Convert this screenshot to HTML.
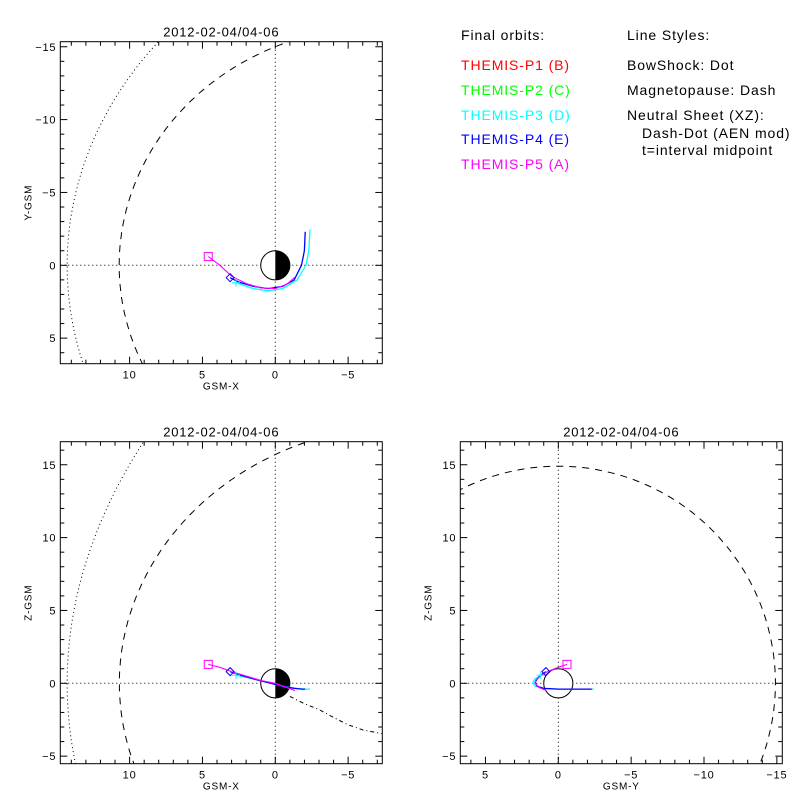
<!DOCTYPE html>
<html><head><meta charset="utf-8"><style>
html,body{margin:0;padding:0;background:#fff;width:800px;height:800px;overflow:hidden;}
svg{display:block;font-family:"Liberation Sans",sans-serif;overflow:hidden;}
</style></head><body>
<svg id="chart" width="800" height="800" viewBox="0 0 800 800">
<g font-size="14" letter-spacing="0.9">
<text x="461" y="40" fill="#000">Final orbits:</text>
<text x="461" y="70" fill="#ff0000">THEMIS-P1 (B)</text>
<text x="461" y="95" fill="#00ff00">THEMIS-P2 (C)</text>
<text x="461" y="120" fill="#00ffff">THEMIS-P3 (D)</text>
<text x="461" y="144" fill="#0000ff">THEMIS-P4 (E)</text>
<text x="461" y="169" fill="#ff00ff">THEMIS-P5 (A)</text>
</g>
<g font-size="14" letter-spacing="0.9" fill="#000">
<text x="627" y="40">Line Styles:</text>
<text x="627" y="70">BowShock: Dot</text>
<text x="627" y="95">Magnetopause: Dash</text>
<text x="627" y="120">Neutral Sheet (XZ):</text>
<text x="642" y="138">Dash-Dot (AEN mod)</text>
<text x="642" y="155">t=interval midpoint</text>
</g>
</svg>
<script>
// ---- data ----
const titleText = "2012-02-04/04-06";
const xyXTicks = [10, 5, 0, -5];
const xyYTicks = [-15, -10, -5, 0, 5];
const zTicks = [15, 10, 5, 0, -5];
const yzYTicks = [5, 0, -5, -10, -15];
// orbit points (GSM X, Y, Z) in Re
const p5X = [4.6, 3.8, 3.0, 2.0, 1.0, 0.0, -0.8, -1.35];
const p5Y = [-0.6, 0.0, 0.75, 1.25, 1.55, 1.6, 1.3, 0.8];
const p5Z = [1.3, 1.1, 0.8, 0.5, 0.2, 0.0, -0.3, -0.5];
const p4X = [3.1, 2.5, 1.5, 0.5, -0.5, -1.3, -1.8, -2.0, -2.05];
const p4Y = [0.85, 1.15, 1.45, 1.6, 1.45, 1.0, 0.0, -1.0, -2.3];
const p4Z = [0.8, 0.6, 0.3, 0.05, -0.2, -0.35, -0.4, -0.4, -0.4];
const p3X = [2.7, 1.5, 0.5, -0.5, -1.5, -2.1, -2.3, -2.38];
const p3Y = [1.2, 1.6, 1.75, 1.6, 1.0, 0.0, -1.0, -2.45];
const p3Z = [0.55, 0.3, 0.05, -0.2, -0.35, -0.4, -0.4, -0.4];
// neutral sheet (XZ)
const nsX = [-1.0, -2.0, -3.0, -4.0, -5.0, -6.0, -7.3];
const nsZ = [-0.9, -1.4, -1.8, -2.35, -2.85, -3.2, -3.45];
// model boundary conic params: [semi-latus L, eccentricity e]
const mpXY = [15.0, 0.40];
const mpXZ = [15.7, 0.467];
const bsXY = [21.2, 0.484];
const bsXZ = [26.8, 0.876];
const mpYZradius = [14.9];

const NS = "http://www.w3.org/2000/svg";
const svg = document.getElementById('chart');
function mk(tag, attrs, parent) {
  const e = document.createElementNS(NS, tag);
  for (const k in attrs) e.setAttribute(k, attrs[k]);
  (parent || svg).appendChild(e);
  return e;
}
const S = 14.57;
function makePanel(name, left, top, ox, oy) {
  const g = mk('g', {});
  
  
  const W = 322, H = 322;
  const sx = v => ox - v * S;
  const defs = mk('clipPath', {id: name + '-clip'}, g);
  mk('rect', {x: left, y: top, width: W, height: H}, defs);
  const plot = mk('g', {'clip-path': 'url(#' + name + '-clip)'}, g);
  
  
  const t = mk('text', {x: left + W / 2, y: top - 5, 'text-anchor': 'middle', 'font-size': 13, 'letter-spacing': '0.8'}, g);
  t.textContent = titleText;
  
  
  const hMin = (ox - (left + W)) / S, hMax = (ox - left) / S;
  for (let v = Math.ceil(hMin); v <= hMax; v++) {
    const x = sx(v), len = v % 5 === 0 ? 7 : 4;
    mk('line', {x1: x, y1: top + H, x2: x, y2: top + H - len, stroke: '#000'}, g);
    mk('line', {x1: x, y1: top, x2: x, y2: top + len, stroke: '#000'}, g);
  }
  return {g, plot, sx, left, top, W, H, ox, oy};
}
function vTicksDraw(p, vmin, vmax, toPx) {
  for (let v = Math.ceil(vmin); v <= vmax; v++) {
    const y = toPx(v), len = v % 5 === 0 ? 7 : 4;
    mk('line', {x1: p.left, y1: y, x2: p.left + len, y2: y, stroke: '#000'}, p.g);
    mk('line', {x1: p.left + p.W, y1: y, x2: p.left + p.W - len, y2: y, stroke: '#000'}, p.g);
  }
}
function labels(p, name, hTicks, hToPx, vTicks, vToPx, hTitle, vTitle) {
  hTicks.forEach(v => {
    const t = mk('text', {x: hToPx(v), y: p.top + p.H + 15, 'text-anchor': 'middle', 'font-size': 11, 'letter-spacing': '0.8'}, p.g);
    t.textContent = v < 0 ? '\u2212' + (-v) : String(v);
    
    
  });
  vTicks.forEach(v => {
    const t = mk('text', {x: p.left - 4, y: vToPx(v) + 4, 'text-anchor': 'end', 'font-size': 11, 'letter-spacing': '0.8'}, p.g);
    t.textContent = v < 0 ? '\u2212' + (-v) : String(v);
    
    
  });
  const ht = mk('text', {x: p.left + p.W / 2, y: p.top + p.H + 26, 'text-anchor': 'middle', 'font-size': 10, 'letter-spacing': '0.8'}, p.g);
  ht.textContent = hTitle;
  
  
  const cy = p.top + p.H / 2;
  const vt = mk('text', {x: p.left - 29, y: cy, 'text-anchor': 'middle', 'font-size': 10, 'letter-spacing': '0.8', transform: 'rotate(-90 ' + (p.left - 29) + ' ' + cy + ')'}, p.g);
  vt.textContent = vTitle;
  
  
  mk('rect', {x: p.left, y: p.top, width: p.W, height: p.H, fill: 'none', stroke: '#000'}, p.g);
}
function poly(parent, xs, ys, hPx, vPx, style, name, p) {
  let pts = xs.map((x, i) => [hPx(x), vPx(ys[i])]);
  if (p) pts = pts.filter(q => q[0] >= p.left - 6 && q[0] <= p.left + p.W + 6 && q[1] >= p.top - 6 && q[1] <= p.top + p.H + 6);
  const e = mk('polyline', Object.assign({points: pts.map(q => q[0].toFixed(1) + ',' + q[1].toFixed(1)).join(' '), fill: 'none'}, style), parent);
  
  
  return e;
}
function conic(p, prm, hPx, vPx, style, name) {
  const [L, e] = prm, xs = [], ys = [];
  for (let a = -170; a <= 170; a += 1) {
    const th = a * Math.PI / 180, r = L / (1 + e * Math.cos(th));
    xs.push(r * Math.cos(th)); ys.push(r * Math.sin(th));
  }
  poly(p.plot, xs, ys, hPx, vPx, style, name, p);
}
function earth(parent, cx, cy, half, name) {
  const g = mk('g', {}, parent);
  
  
  const r = S;
  mk('circle', {cx, cy, r, fill: '#fff', stroke: '#000'}, g);
  if (half) mk('path', {d: `M${cx},${cy - r} A${r},${r} 0 0 1 ${cx},${cy + r} Z`, fill: '#000'}, g);
}
function crossLines(p, x0, y0) {
  mk('line', {x1: p.left, y1: y0, x2: p.left + p.W, y2: y0, stroke: '#000', 'stroke-dasharray': '1 3'}, p.plot);
  mk('line', {x1: x0, y1: p.top, x2: x0, y2: p.top + p.H, stroke: '#000', 'stroke-dasharray': '1 3'}, p.plot);
}
function square(parent, x, y, c, name) {
  const e = mk('rect', {x: x - 4, y: y - 4, width: 8, height: 8, fill: 'none', stroke: c}, parent);
   
}
function diamond(parent, x, y, c, name) {
  const e = mk('path', {d: `M${x - 4},${y} L${x},${y - 4} L${x + 4},${y} L${x},${y + 4} Z`, fill: 'none', stroke: c}, parent);
   
}
function plus(parent, x, y, c, name) {
  const e = mk('path', {d: `M${x - 4},${y} H${x + 4} M${x},${y - 4} V${y + 4}`, fill: 'none', stroke: c}, parent);
   
}
const dot = {stroke: '#000', 'stroke-dasharray': '1 3', 'stroke-width': 1};
const dash = {stroke: '#000', 'stroke-dasharray': '7 6', 'stroke-width': 1};
const dashdot = {stroke: '#000', 'stroke-dasharray': '4 3 1 3', 'stroke-width': 1};
function orbits(plot, hPx, vPx, hArr, vArr) {
  const [h3, h4, h5] = hArr, [v3, v4, v5] = vArr;
  poly(plot, h3, v3, hPx, vPx, {stroke: '#00ffff', 'stroke-width': 1.3}, 'orbit-p3');
  poly(plot, h4, v4, hPx, vPx, {stroke: '#0000ff', 'stroke-width': 1.3}, 'orbit-p4');
  poly(plot, h5, v5, hPx, vPx, {stroke: '#ff00ff', 'stroke-width': 1.1}, 'orbit-p5');
  plus(plot, hPx(h3[0]), vPx(v3[0]), '#00ffff', 'marker-p3');
  diamond(plot, hPx(h4[0]), vPx(v4[0]), '#0000ff', 'marker-p4');
  square(plot, hPx(h5[0]), vPx(v5[0]), '#ff00ff', 'marker-p5');
}

// Panel 1: XY
{
  const ox = 275.3, oy = 265.3;
  const p = makePanel('xy-panel', 60.3, 41.7, ox, oy);
  const hPx = v => ox - v * S, vPx = v => oy + v * S;
  vTicksDraw(p, -15.3, 6.7, vPx);
  crossLines(p, ox, oy);
  conic(p, bsXY, hPx, vPx, dot, 'bow-shock-xy');
  conic(p, mpXY, hPx, vPx, dash, 'magnetopause-xy');
  earth(p.plot, ox, oy, true, 'earth-xy');
  orbits(p.plot, hPx, vPx, [p3X, p4X, p5X], [p3Y, p4Y, p5Y]);
  labels(p, 'xy-panel', xyXTicks, hPx, xyYTicks, vPx, 'GSM-X', 'Y-GSM');
}
// Panel 2: XZ
{
  const ox = 275.3, oy = 683.3;
  const p = makePanel('xz-panel', 60.3, 441.7, ox, oy);
  const hPx = v => ox - v * S, vPx = v => oy - v * S;
  vTicksDraw(p, -5.5, 16.6, vPx);
  crossLines(p, ox, oy);
  conic(p, bsXZ, hPx, vPx, dot, 'bow-shock-xz');
  conic(p, mpXZ, hPx, vPx, dash, 'magnetopause-xz');
  poly(p.plot, nsX, nsZ, hPx, vPx, dashdot, 'neutral-sheet-xz', p);
  earth(p.plot, ox, oy, true, 'earth-xz');
  orbits(p.plot, hPx, vPx, [p3X, p4X, p5X], [p3Z, p4Z, p5Z]);
  labels(p, 'xz-panel', xyXTicks, hPx, zTicks, vPx, 'GSM-X', 'Z-GSM');
}
// Panel 3: YZ
{
  const ox = 558.3, oy = 683.3;
  const p = makePanel('yz-panel', 460.3, 441.7, ox, oy);
  const hPx = v => ox - v * S, vPx = v => oy - v * S;
  vTicksDraw(p, -5.5, 16.6, vPx);
  crossLines(p, ox, oy);
  const cxs = [], cys = [];
  for (let a = 0; a <= 360; a += 1) {
    cxs.push(mpYZradius[0] * Math.cos(a * Math.PI / 180));
    cys.push(mpYZradius[0] * Math.sin(a * Math.PI / 180));
  }
  poly(p.plot, cxs, cys, hPx, vPx, dash, 'magnetopause-yz', p);
  earth(p.plot, ox, oy, false, 'earth-yz');
  orbits(p.plot, hPx, vPx, [p3Y, p4Y, p5Y], [p3Z, p4Z, p5Z]);
  labels(p, 'yz-panel', yzYTicks, hPx, zTicks, vPx, 'GSM-Y', 'Z-GSM');
}
</script>
</body></html>
